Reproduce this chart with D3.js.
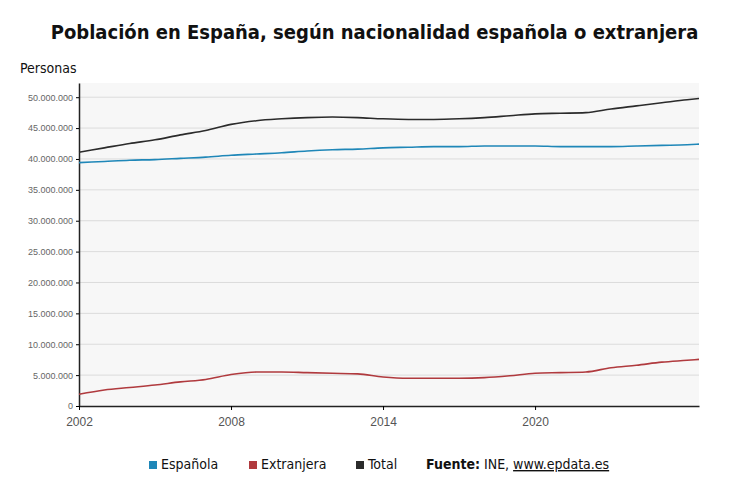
<!DOCTYPE html>
<html><head><meta charset="utf-8">
<script src="https://cdn.jsdelivr.net/npm/d3@7"></script>
<style>body{margin:0;background:#fff}svg{font-family:"DejaVu Sans Condensed","DejaVu Sans",sans-serif}</style>
</head><body><svg width="749" height="499"></svg>
<script>
const years = [2002,2003,2004,2005,2006,2007,2008,2009,2010,2011,2012,2013,2014,2015,2016,2017,2018,2019,2020,2021,2022,2023,2024,2025,2026,2026.47]
const total = [41.1,41.8,42.5,43.1,43.9,44.6,45.6,46.2,46.5,46.7,46.8,46.7,46.5,46.4,46.4,46.5,46.7,47.0,47.3,47.4,47.5,48.1,48.6,49.1,49.6,49.8]
const extranjera = [1.9,2.6,3.0,3.4,3.9,4.3,5.1,5.5,5.5,5.4,5.3,5.2,4.7,4.5,4.5,4.5,4.6,4.9,5.3,5.4,5.5,6.2,6.6,7.1,7.4,7.55]
const espanola = [39.4,39.6,39.8,39.9,40.1,40.3,40.6,40.8,41.0,41.3,41.5,41.6,41.8,41.9,42.0,42.0,42.1,42.1,42.1,42.0,42.0,42.0,42.1,42.2,42.3,42.4]
const series = [
  { name: 'Española', values: espanola, color: '#1f87b8' },
  { name: 'Extranjera', values: extranjera, color: '#b03a3e' },
  { name: 'Total', values: total, color: '#2b2b2b' }
]
const yTicks = d3.range(0, 50000001, 5000000)
const xTicks = [2002, 2008, 2014, 2020]
const margin = { top: 83, right: 50, bottom: 93, left: 79 }
const W = 749, H = 499
const svg = d3.select('svg')
const x = d3.scaleLinear().domain([2002, 2026.47]).range([margin.left, W - margin.right])
const y = d3.scaleLinear().domain([0, 52300000]).range([H - margin.bottom, margin.top])
const fmt = d => d3.format(',')(d).replace(/,/g, '.')

svg.append('rect').attr('x', margin.left).attr('y', margin.top)
  .attr('width', x.range()[1] - margin.left).attr('height', y(0) - margin.top).attr('fill', '#f7f7f7')

// grid
svg.append('g').selectAll('line').data(yTicks.slice(1)).join('line')
  .attr('x1', margin.left).attr('x2', x.range()[1])
  .attr('y1', d => y(d)).attr('y2', d => y(d)).attr('stroke', '#dcdcdc')

const yAxis = svg.append('g').attr('transform', `translate(${margin.left},0)`)
  .call(d3.axisLeft(y).tickValues(yTicks).tickFormat(fmt).tickSize(3).tickSizeOuter(0))
yAxis.select('.domain').attr('stroke', '#222').attr('stroke-width', 1.5)
yAxis.selectAll('text').attr('font-family', 'Liberation Sans, Arial').attr('font-size', 9).attr('fill', '#666')

const xAxis = svg.append('g').attr('transform', `translate(0,${y(0)})`)
  .call(d3.axisBottom(x).tickValues(xTicks).tickFormat(d3.format('d')).tickSize(4).tickSizeOuter(0))
xAxis.select('.domain').attr('stroke', '#222').attr('stroke-width', 1.5)
xAxis.selectAll('text').attr('font-size', 12).attr('fill', '#555').attr('dy', '1.1em')

const line = d3.line().x((d, i) => x(years[i])).y(d => y(d * 1e6)).curve(d3.curveMonotoneX)
svg.append('g').selectAll('path').data(series).join('path')
  .attr('d', d => line(d.values)).attr('fill', 'none')
  .attr('stroke', d => d.color).attr('stroke-width', 1.6)

svg.append('text').attr('x', W / 2).attr('y', 39).attr('text-anchor', 'middle')
  .attr('font-size', 20).attr('font-weight', 'bold').attr('fill', '#111')
  .text('Población en España, según nacionalidad española o extranjera')
svg.append('text').attr('x', 20).attr('y', 73).attr('font-size', 14).attr('fill', '#111').text('Personas')

const leg = svg.append('g').attr('font-size', 14).attr('fill', '#111')
const lx = [149, 249, 356]
series.forEach((s, i) => {
  leg.append('rect').attr('x', lx[i]).attr('y', 461).attr('width', 8).attr('height', 8).attr('fill', s.color)
  leg.append('text').attr('x', lx[i] + 12).attr('y', 469).text(s.name)
})
const src = leg.append('text').attr('x', 426).attr('y', 469)
src.append('tspan').attr('font-weight', 'bold').text('Fuente:')
src.append('tspan').text(' INE, ')
src.append('tspan').attr('text-decoration', 'underline').text('www.epdata.es')
</script></body></html>
